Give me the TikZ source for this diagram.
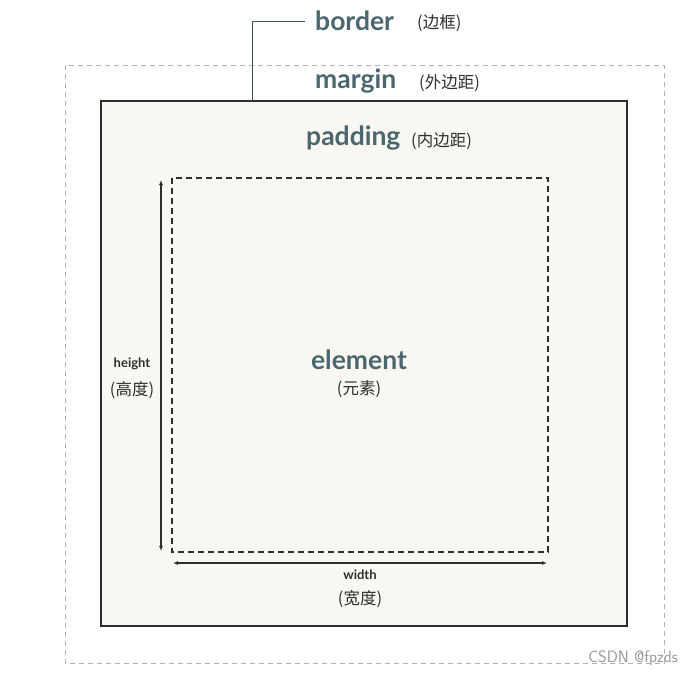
\documentclass[tikz,border=0pt]{standalone}
\usepackage{fontspec}
\setmainfont{Lato}
\newfontfamily\cjk{Noto Sans CJK SC}
\usetikzlibrary{arrows.meta}
\definecolor{labelc}{HTML}{4B666E}
\definecolor{boxfill}{HTML}{F8F7F1}
\definecolor{linec}{HTML}{2E2E2E}

\begin{document}
\begin{tikzpicture}[x=1pt,y=-1pt,
	big/.style={text=labelc,font=\fontsize{26.5}{30}\selectfont\bfseries,inner sep=0pt},
	note/.style={text=linec,font=\cjk\fontsize{16.5}{18}\selectfont,inner sep=0pt},
	small/.style={text=linec,font=\fontsize{13}{15}\selectfont\bfseries,inner sep=0pt},
	dim/.style={linec,line width=1.1pt,{Latex[length=5pt,width=4pt]}-{Latex[length=5pt,width=4pt]}}]
		\useasboundingbox[fill=white] (0,0) rectangle (693,678);

		% margin, border, element
		\draw[gray!60,line width=0.9pt,dash pattern=on 5pt off 4pt] (65,65) rectangle (664,663);
		\draw[linec,fill=boxfill,line width=1.1pt] (101,101) rectangle (627,626);
		\draw[linec,line width=1.1pt,dash pattern=on 6pt off 4pt] (172,178) rectangle (548,552);

		% labels
		\node[big,anchor=west] (border) at (315,21) {border};
		\node[note,anchor=west] (bordercn) at (417,23) {(边框)};
		\node[big,anchor=west] (margin) at (315,81) {margin};
		\node[note,anchor=west] (margincn) at (419,83) {(外边距)};
		\node[big,anchor=west] (padding) at (306,138) {padding};
		\node[note,anchor=west] (paddingcn) at (411,141) {(内边距)};
		\node[big] (element) at (359,360) {element};
		\node[note] (elementcn) at (359,389) {(元素)};
		\node[small] (height) at (132,364) {height};
		\node[note] (heightcn) at (132,390) {(高度)};
		\node[small] (width) at (360,575) {width};
		\node[note] (widthcn) at (360,599) {(宽度)};
		\node[text=gray!80,font=\fontsize{16.5}{18}\selectfont\sffamily,anchor=east,inner sep=0pt] (mark) at (678,658) {CSDN @fpzds};

		% leader to the border line
		\coordinate (bordertop) at (252,101);
		\draw[labelc!80!black,line width=1pt] (bordertop) |- ([xshift=-10pt]border.west);

		% dimensions
		\coordinate (htop) at (161,180);
		\coordinate (hbot) at (161,551);
		\coordinate (wleft) at (173,563);
		\coordinate (wright) at (547,563);
		\draw[dim] (htop) -- (hbot);
		\draw[dim] (wleft) -- (wright);
	\end{tikzpicture}
\end{document}
